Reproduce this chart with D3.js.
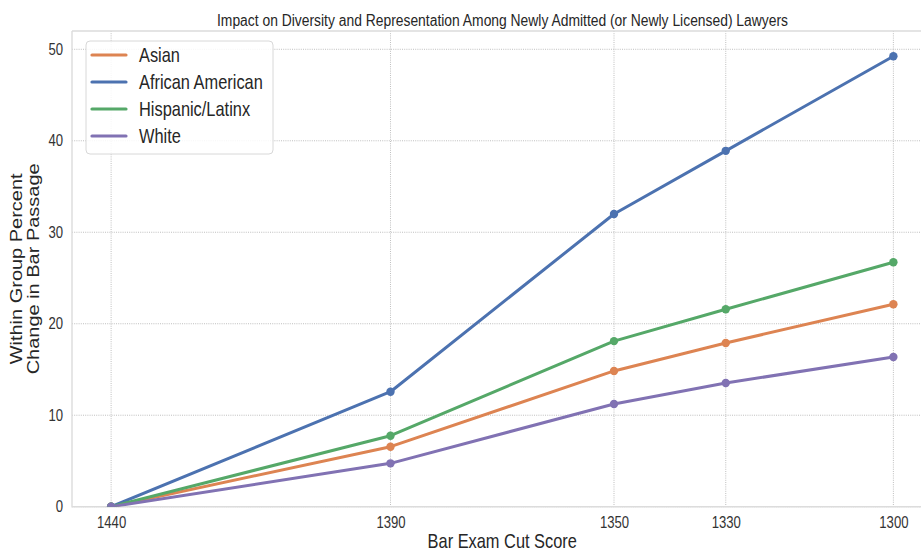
<!DOCTYPE html>
<html><head><meta charset="utf-8">
<script src="https://cdn.jsdelivr.net/npm/d3@7"></script>
<style>
html,body{margin:0;padding:0;background:#fff;}
svg{display:block;font-family:"Liberation Sans",Arial,sans-serif;}
</style></head>
<body>
<svg id="chart" width="921" height="551"></svg>
<script>
const scores = [1440, 1390, 1350, 1330, 1300];
const groups = ["Asian", "African American", "Hispanic/Latinx", "White"];
const asian = [0, 6.56, 14.84, 17.9, 22.13];
const africanAmerican = [0, 12.57, 32.0, 38.9, 49.24];
const hispanicLatinx = [0, 7.76, 18.1, 21.58, 26.72];
const white = [0, 4.74, 11.23, 13.52, 16.37];
const xTicks = [1440, 1390, 1350, 1330, 1300];
const yTicks = [0, 10, 20, 30, 40, 50];
const colors = ["#DD8452", "#4C72B0", "#55A868", "#8172B3"];
const title = "Impact on Diversity and Representation Among Newly Admitted (or Newly Licensed) Lawyers";
const xLabel = "Bar Exam Cut Score";
const yLabel = ["Within Group Percent", "Change in Bar Passage"];

const seriesValues = [asian, africanAmerican, hispanicLatinx, white];
const SX = 0.82;
const L = 72, R = 932.5, T = 31, B = 506.7;

const svg = d3.select("#chart");
const x = d3.scaleLinear().domain([1447, 1293]).range([L, R]);
const y = d3.scaleLinear().domain([0, 52.0]).range([B, T]);

svg.append("defs").append("clipPath").attr("id","clip")
  .append("rect").attr("x", L).attr("y", T).attr("width", R - L).attr("height", B - T);

// grid
const grid = svg.append("g");
grid.selectAll(".gx").data(xTicks).join("line")
  .attr("x1", d => x(d)).attr("x2", d => x(d)).attr("y1", T).attr("y2", B)
  .attr("stroke", "#b8b8b8").attr("stroke-width", 0.9).attr("stroke-dasharray", "1,1.2");
grid.selectAll(".gy").data(yTicks).join("line")
  .attr("x1", L).attr("x2", R).attr("y1", d => y(d)).attr("y2", d => y(d))
  .attr("stroke", "#b8b8b8").attr("stroke-width", 0.9).attr("stroke-dasharray", "1,1.2");

// frame
const frame = svg.append("g").attr("stroke", "#dcdcdc").attr("stroke-width", 1.4).attr("fill","none");
frame.append("path").attr("d", `M${L},${T}H${R}M${L},${T}V${B}H${R}`);

// axes
const xa = svg.append("g").attr("transform", `translate(0,${B})`)
  .call(d3.axisBottom(x).tickValues(xTicks).tickFormat(d3.format("d")).tickSize(0).tickPadding(10));
xa.select(".domain").remove();
xa.selectAll("text").attr("font-size", 16).attr("fill", "#333").attr("font-family", null)
  .attr("transform", `scale(${SX},1)`);

const ya = svg.append("g").attr("transform", `translate(${L},0)`)
  .call(d3.axisLeft(y).tickValues(yTicks).tickFormat(d3.format("d")).tickSize(0).tickPadding(9));
ya.select(".domain").remove();
ya.selectAll("text").attr("font-size", 16).attr("fill", "#333").attr("font-family", null)
  .attr("x", 0).attr("transform", `translate(-9,0) scale(${SX},1)`);

// lines
const line = d3.line().x((d, i) => x(scores[i])).y(d => y(d));
const plot = svg.append("g").attr("clip-path", "url(#clip)");
seriesValues.forEach((vals, k) => {
  plot.append("path").datum(vals).attr("d", line)
    .attr("fill", "none").attr("stroke", colors[k]).attr("stroke-width", 3)
    .attr("stroke-linejoin", "round").attr("stroke-linecap", "round");
  plot.selectAll(null).data(vals).join("circle")
    .attr("cx", (d, i) => x(scores[i])).attr("cy", d => y(d)).attr("r", 4.2)
    .attr("fill", colors[k]);
});

// title
svg.append("text").attr("x", 217).attr("y", 26)
  .attr("font-size", 16).attr("fill", "#262626")
  .attr("textLength", 571).attr("lengthAdjust", "spacingAndGlyphs").text(title);

// x label
svg.append("text").attr("transform", `translate(${(L + R) / 2},548) scale(${SX},1)`)
  .attr("text-anchor", "middle").attr("font-size", 20).attr("fill", "#262626").text(xLabel);

// y label
yLabel.forEach((t, i) => {
  svg.append("text").attr("transform", `translate(${22 + i * 17},${(T + B) / 2}) scale(${SX},1) rotate(-90)`)
    .attr("text-anchor", "middle").attr("font-size", 20).attr("fill", "#262626").text(t);
});

// legend
const lg = svg.append("g");
lg.append("rect").attr("x", 86).attr("y", 41).attr("width", 187).attr("height", 113)
  .attr("rx", 4).attr("fill", "#fff").attr("fill-opacity", 0.85)
  .attr("stroke", "#d8d8d8").attr("stroke-width", 1);
groups.forEach((g, i) => {
  const yy = 55 + i * 27;
  lg.append("line").attr("x1", 92).attr("x2", 126).attr("y1", yy).attr("y2", yy)
    .attr("stroke", colors[i]).attr("stroke-width", 3.2).attr("stroke-linecap", "round");
  lg.append("text").attr("transform", `translate(139,${yy + 7}) scale(${SX},1)`)
    .attr("font-size", 20).attr("fill", "#262626").text(g);
});
</script>
</body></html>
